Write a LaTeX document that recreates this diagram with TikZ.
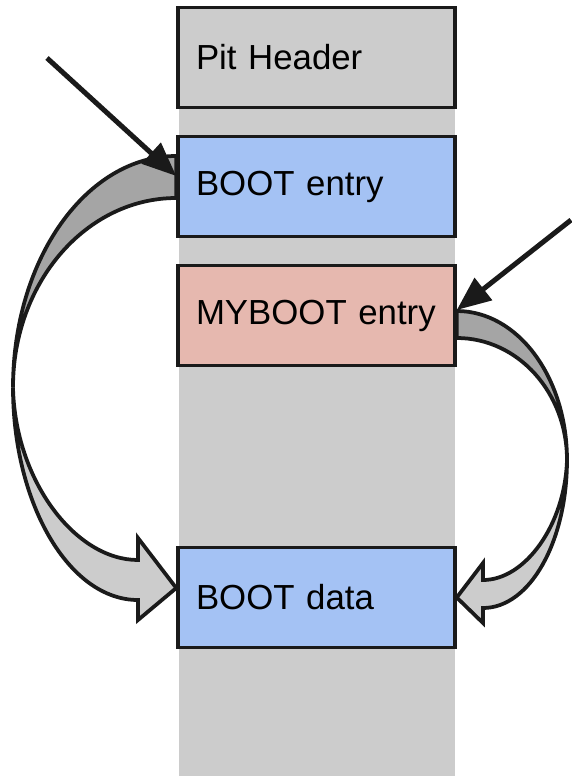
\documentclass[tikz,border=0pt]{standalone}
\usepackage{fontspec}
\setmainfont{Liberation Sans}
\usetikzlibrary{arrows.meta}
\usetikzlibrary{calc}
\usetikzlibrary{backgrounds}
\definecolor{ink}{HTML}{1A1A1A}
\definecolor{colgray}{HTML}{CCCCCC}
\definecolor{backgray}{HTML}{A5A5A5}
\definecolor{entryblue}{HTML}{A4C2F4}
\definecolor{entryred}{HTML}{E6B8AF}

\begin{document}
\begin{tikzpicture}[
	slot/.style={draw=ink, line width=0.07cm, minimum width=5.54cm, minimum height=2cm,
		inner xsep=0.36cm, text width=4.82cm, align=left, font=\fontsize{19.8}{23}\selectfont},
	pointer/.style={draw=ink, line width=0.1cm, -{Triangle[length=0.68cm,width=0.55cm]}},
	band/.style={draw=ink, line width=0.075cm}
]
	\useasboundingbox (0,0) rectangle (11.42,-15.52);

	\node[slot, fill=colgray] (pit) at (6.33,-1.15) {Pit Header};
	\node[slot, fill=entryblue] (bootentry) at (6.33,-3.73) {BOOT entry};
	\node[slot, fill=entryred] (mybootentry) at (6.33,-6.31) {MYBOOT entry};
	\node[slot, fill=entryblue] (bootdata) at (6.33,-11.95) {BOOT data};

	\begin{scope}[on background layer]
		% table column
		\fill[colgray] (3.58,-1.15) rectangle (9.10,-15.52);

		% BOOT entry -> BOOT data
		\coordinate (ltwist) at (0.26,-7.75);
		\filldraw[band, fill=backgray] ($(bootentry.west)+(0,0.61)$)
			.. controls (1.74,-3.12) and (0.26,-5.17) .. (ltwist)
			.. controls (0.26,-5.63) and (1.74,-3.96) .. ($(bootentry.west)+(0,-0.23)$) -- cycle;
		\filldraw[band, fill=colgray] (ltwist)
			.. controls (0.26,-10.07) and (1.38,-12.0) .. (2.76,-12.0)
			-- (2.76,-12.4) -- ($(bootdata.west)+(0,0.19)$) -- (2.76,-10.76) -- (2.76,-11.2)
			.. controls (1.5,-11.2) and (0.3,-9.6) .. (ltwist) -- cycle;

		% MYBOOT entry -> BOOT data
		\coordinate (rtwist) at (11.34,-9.20);
		\filldraw[band, fill=backgray] ($(mybootentry.east)+(0,0.09)$)
			.. controls (10.36,-6.22) and (11.34,-7.55) .. (rtwist)
			.. controls (11.34,-7.85) and (10.36,-6.76) .. ($(mybootentry.east)+(0,-0.45)$) -- cycle;
		\filldraw[band, fill=colgray] (rtwist)
			.. controls (11.34,-10.83) and (10.6,-12.16) .. (9.66,-12.16)
			-- (9.66,-12.46) -- (bootdata.east) -- (9.66,-11.26) -- (9.66,-11.6)
			.. controls (10.5,-11.6) and (11.3,-10.5) .. (rtwist) -- cycle;
	\end{scope}

	\coordinate (ltail) at (0.94,-1.16);
	\coordinate (rtail) at (11.42,-4.40);
	\draw[pointer] (ltail) -- ($(bootentry.west)+(0,0.21)$);
	\draw[pointer] (rtail) -- ($(mybootentry.east)+(0,0.11)$);
\end{tikzpicture}
\end{document}
